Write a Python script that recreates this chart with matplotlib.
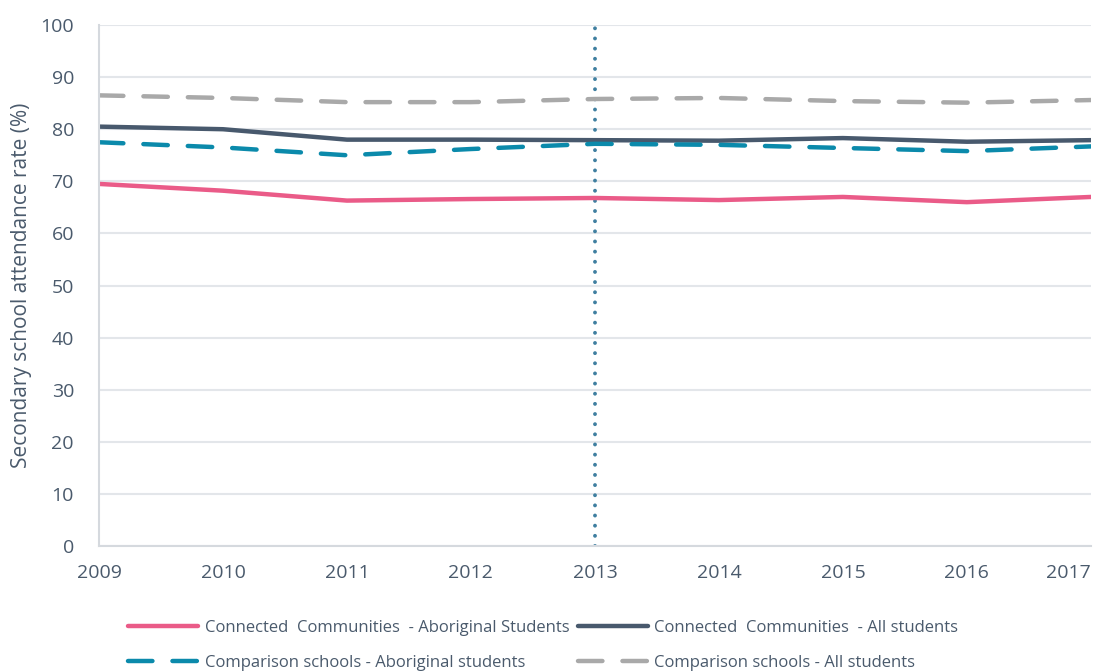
import matplotlib
matplotlib.use("Agg")
import matplotlib.pyplot as plt

years = [2009, 2010, 2011, 2012, 2013, 2014, 2015, 2016, 2017]
cc_aboriginal = [69.5, 68.2, 66.3, 66.6, 66.8, 66.4, 67.0, 66.0, 67.0]
cc_all = [80.5, 80.0, 78.0, 78.0, 77.9, 77.8, 78.3, 77.6, 77.9]
comp_aboriginal = [77.5, 76.5, 75.0, 76.2, 77.2, 77.0, 76.4, 75.8, 76.7]
comp_all = [86.5, 86.0, 85.2, 85.2, 85.8, 86.0, 85.4, 85.1, 85.6]
yticks = list(range(0, 101, 10))
marker_year = 2013

plt.rcParams['font.family'] = ['Open Sans', 'DejaVu Sans']
txt = '#4a5a6c'

fig = plt.figure(figsize=(10.96, 6.71), dpi=100)
ax = fig.add_axes([0.0903, 0.1863, 0.905, 0.7764])

h1, = ax.plot(years, cc_aboriginal, color='#ea5b88', lw=3.2, solid_capstyle='round',
              label='Connected  Communities  - Aboriginal Students')
h2, = ax.plot(years, cc_all, color='#48596d', lw=3.2, solid_capstyle='round',
              label='Connected  Communities  - All students')
h3, = ax.plot(years, comp_aboriginal, color='#0b8aab', lw=3.2, ls=(0, (5.5, 4.5)), dash_capstyle='round',
              label='Comparison schools - Aboriginal students')
h4, = ax.plot(years, comp_all, color='#a9a9a9', lw=3.2, ls=(0, (5.5, 4.5)), dash_capstyle='round',
              label='Comparison schools - All students')
ax.axvline(marker_year, color='#3f7fa0', lw=2.8, ls=(0, (0.01, 2.6)), dash_capstyle='round', zorder=1)

ax.set_xlim(2009, 2017)
ax.set_ylim(0, 100)
ax.set_yticks(yticks)
ax.set_xticks(years)
ax.grid(axis='y', color='#e3e6ea', lw=1.5)
ax.set_axisbelow(True)
for s in ['top', 'right']:
    ax.spines[s].set_visible(False)
for s in ['left', 'bottom']:
    ax.spines[s].set_color('#d5d9de')
    ax.spines[s].set_linewidth(1.5)
ax.tick_params(axis='both', colors='#d5d9de', labelcolor=txt, labelsize=14, length=0)
ax.tick_params(axis='x', pad=13)
ax.tick_params(axis='y', pad=18)
ax.set_ylabel('Secondary school attendance rate (%)', color=txt, fontsize=15, labelpad=6)

fig.legend(handles=[h1, h3, h2, h4], loc='lower left', bbox_to_anchor=(0.103, -0.022), ncol=2,
           frameon=False, handlelength=4.2, fontsize=12, labelcolor=txt, columnspacing=0.5,
           handletextpad=0.4, labelspacing=1.15)

ax.get_xticklabels()[-1].set_horizontalalignment('right')

fig.savefig('out.png', dpi=100)
